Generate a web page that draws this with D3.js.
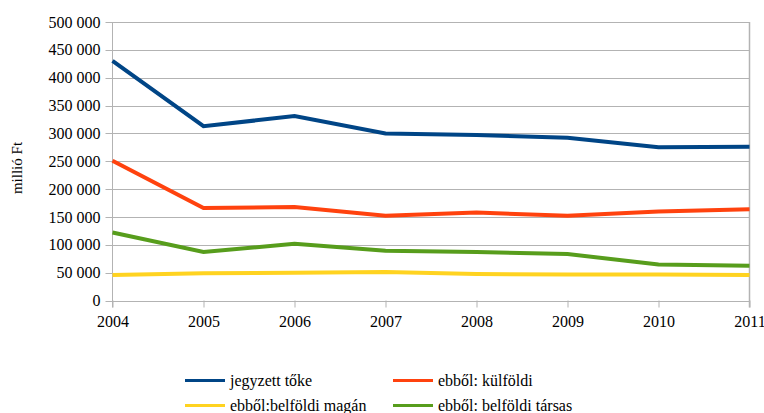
<!DOCTYPE html>
<html lang="hu">
<head>
    <meta charset="UTF-8">
    <title>Jegyzett tőke</title>
    <script src="https://d3js.org/d3.v7.min.js"></script>
    <style>
        body { margin: 0; background: #fff; }
        svg text { fill: #000; }
        .grid line { stroke: #b3b3b3; stroke-width: 1; }
        .axis path { display: none; }
        .axis line { stroke: #b3b3b3; }
    </style>
</head>
<body>
<div id="chart"></div>
<script>
    // data (millió Ft)
    var years = [2004, 2005, 2006, 2007, 2008, 2009, 2010, 2011];
    var jegyzett = [430000, 313000, 331000, 300000, 297000, 292000, 275000, 276000];
    var kulfoldi = [251000, 166000, 168000, 152000, 158000, 152000, 160000, 164000];
    var belfMagan = [46000, 49000, 50000, 51000, 47500, 46500, 46500, 46000];
    var belfTarsas = [122000, 87000, 102000, 89500, 87000, 83500, 64500, 62500];
    var yTicks = [0, 50000, 100000, 150000, 200000, 250000, 300000, 350000, 400000, 450000, 500000];

    var series = [
        {name: "jegyzett tőke", values: jegyzett, color: "#004586"},
        {name: "ebből: külföldi", values: kulfoldi, color: "#ff420e"},
        {name: "ebből:belföldi magán", values: belfMagan, color: "#ffd320"},
        {name: "ebből: belföldi társas", values: belfTarsas, color: "#579d1c"}
    ];

    var serif = "'Liberation Serif', 'DejaVu Serif', serif";
    var W = 764, H = 413;
    var plotL = 112.5, plotR = 749.5, plotT = 22, plotB = 300.5;

    var svg = d3.select("#chart").append("svg")
        .attr("width", W)
        .attr("height", H)
        .attr("font-family", serif);

    var x = d3.scaleLinear().domain([2004, 2011]).range([plotL, plotR]);
    var y = d3.scaleLinear().domain([0, 500000]).range([plotB, plotT]);

    var loc = d3.formatLocale({decimal: ",", thousands: " ", grouping: [3], currency: ["", ""]});
    var fmt = loc.format(",");

    // horizontal gridlines
    svg.append("g")
        .attr("class", "grid")
        .selectAll("line")
        .data(yTicks)
        .enter().append("line")
        .attr("x1", plotL - 7)
        .attr("x2", plotR)
        .attr("y1", function (d) { return Math.round(y(d)) + 0.5; })
        .attr("y2", function (d) { return Math.round(y(d)) + 0.5; });

    // left and right vertical lines
    svg.append("line")
        .attr("x1", plotL).attr("x2", plotL)
        .attr("y1", plotT).attr("y2", plotB + 7)
        .attr("stroke", "#b3b3b3");
    svg.append("line")
        .attr("x1", plotR).attr("x2", plotR)
        .attr("y1", plotT).attr("y2", plotB + 7)
        .attr("stroke", "#b3b3b3")
        .attr("stroke-width", 1.5);

    // y axis labels
    var yAxis = svg.append("g")
        .attr("class", "axis")
        .attr("transform", "translate(" + plotL + ",0)")
        .call(d3.axisLeft(y).tickValues(yTicks).tickFormat(fmt).tickSize(0).tickPadding(12));
    yAxis.attr("font-family", serif).attr("font-size", 16);
    yAxis.selectAll("text").style("font-family", serif);

    // x axis
    var xAxis = svg.append("g")
        .attr("class", "axis")
        .attr("transform", "translate(0," + plotB + ")")
        .call(d3.axisBottom(x).tickValues(years).tickFormat(d3.format("d")).tickSize(7).tickPadding(8));
    xAxis.attr("font-family", serif).attr("font-size", 16);
    xAxis.selectAll("text").style("font-family", serif);

    // y title
    svg.append("text")
        .attr("transform", "translate(22,168) rotate(-90)")
        .attr("text-anchor", "middle")
        .style("font-family", serif)
        .style("font-size", "15px")
        .text("millió Ft");

    // lines
    var line = d3.line()
        .x(function (d, i) { return x(years[i]); })
        .y(function (d) { return y(d); });

    svg.append("g")
        .selectAll("path")
        .data(series)
        .enter().append("path")
        .attr("fill", "none")
        .attr("stroke", function (d) { return d.color; })
        .attr("stroke-width", 4)
        .attr("d", function (d) { return line(d.values); });

    // legend
    var legPos = [[185, 380.5], [393, 380.5], [185, 405.5], [393, 405.5]];
    var leg = svg.append("g")
        .selectAll("g")
        .data(series)
        .enter().append("g")
        .attr("transform", function (d, i) { return "translate(" + legPos[i][0] + "," + legPos[i][1] + ")"; });

    leg.append("line")
        .attr("x1", 0).attr("x2", 40)
        .attr("stroke", function (d) { return d.color; })
        .attr("stroke-width", 3);

    leg.append("text")
        .attr("x", 45)
        .attr("dy", "0.35em")
        .style("font-family", serif)
        .style("font-size", "16px")
        .text(function (d) { return d.name; });
</script>
</body>
</html>
